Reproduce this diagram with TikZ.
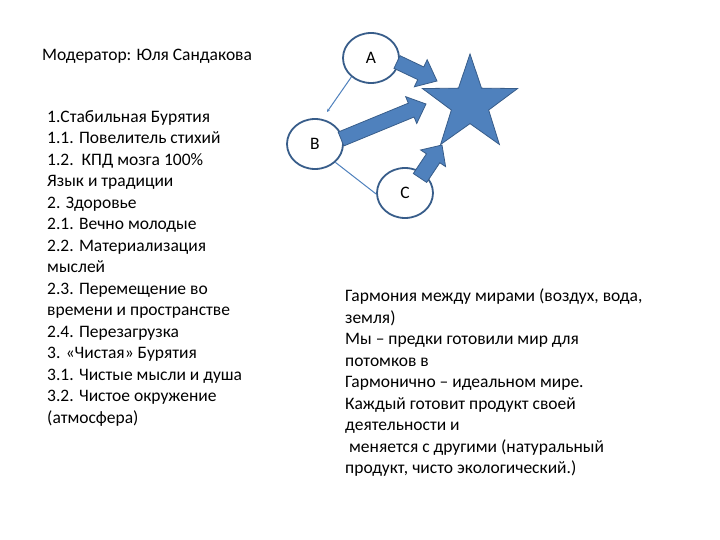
\documentclass[tikz,border=0pt]{standalone}
\usepackage{fontspec}
\setmainfont{Carlito}
\usetikzlibrary{shapes.geometric,calc,arrows.meta}
\definecolor{ofblue}{HTML}{4F81BD}
\definecolor{ofdark}{HTML}{385D8A}
\tikzset{
  txt/.style={font=\fontsize{17.5}{21.5}\selectfont, inner sep=0pt, text=black},
  circ/.style={ellipse, draw=ofdark, line width=1.8pt, fill=white, minimum width=56pt, minimum height=50pt, inner sep=0pt, txt},
  thin/.style={draw=ofblue, line width=1pt},
  blk/.style={fill=ofblue, draw=ofdark, line width=0.8pt, line join=miter}
}
\newcommand{\blockarrow}[5]{% start, end, body half, head half, head length
  \path[blk] ($(#1)!#3!90:(#2)$) -- ($($(#2)!#5!(#1)$)!#3!90:(#2)$) -- ($($(#2)!#5!(#1)$)!#4!90:(#2)$) -- (#2)
    -- ($($(#2)!#5!(#1)$)!#4!-90:(#2)$) -- ($($(#2)!#5!(#1)$)!#3!-90:(#2)$) -- ($(#1)!#3!-90:(#2)$) -- cycle;}
\begin{document}
\begin{tikzpicture}[x=1pt,y=-1pt]
\path[use as bounding box, fill=white] (0,0) rectangle (720,540);

\node[txt, anchor=west] (mod) at (42,56) {Модератор: Юля Сандакова};

\node[txt, anchor=north west, align=left] (list) at (47,110) {1.Стабильная Бурятия\\
1.1. Повелитель стихий\\
1.2.\ \ КПД мозга 100\%\\
Язык и традиции\\
2. Здоровье\\
2.1. Вечно молодые\\
2.2. Материализация\\
мыслей\\
2.3. Перемещение во\\
времени и пространстве\\
2.4. Перезагрузка\\
3. «Чистая» Бурятия\\
3.1. Чистые мысли и душа\\
3.2. Чистое окружение\\
(атмосфера)};

\node[txt, anchor=north west, align=left] (harm) at (345,289) {Гармония между мирами (воздух, вода,\\
земля)\\
Мы – предки готовили мир для\\
потомков в\\
Гармонично – идеальном мире.\\
Каждый готовит продукт своей\\
деятельности и\\
\ меняется с другими (натуральный\\
продукт, чисто экологический.)};

\node[star, star points=5, star point ratio=2.55, minimum size=100pt, inner sep=0pt, fill=ofblue, draw=ofdark, line width=0.8pt] (S) at (470,104) {};

\coordinate (tA) at (437,81);
\coordinate (tB) at (426,104);
\coordinate (tC) at (442,145);
\coordinate (bEnd) at (327,112);

\node[circ] (A) at (371,58) {A};
\node[circ] (B) at (315,144) {B};
\node[circ] (C) at (405,193) {C};

\draw[thin, -{Stealth[length=3pt,width=3pt]}] (A.224) -- (bEnd);
\draw[thin] (B.-42) -- (C.182);

\coordinate (sA) at (397,62);
\coordinate (sB) at (341,139);
\coordinate (sC) at (420,178);
\blockarrow{sA}{tA}{7pt}{15pt}{18pt}
\blockarrow{sB}{tB}{7.5pt}{14.5pt}{16pt}
\blockarrow{sC}{tC}{8pt}{15pt}{16pt}
\end{tikzpicture}
\end{document}
